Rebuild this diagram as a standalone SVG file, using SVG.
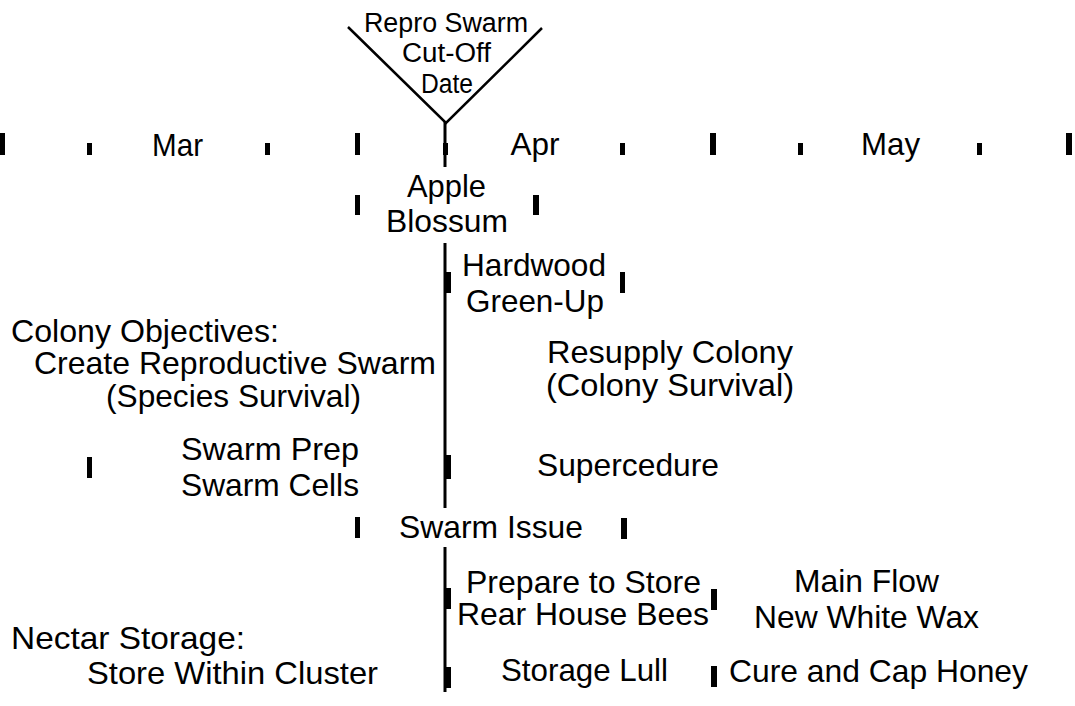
<svg xmlns="http://www.w3.org/2000/svg" width="1075" height="706" viewBox="0 0 1075 706">
  <style>
    text { font-family: "Liberation Sans", Arial, sans-serif; font-size: 30.5px; fill: #000; }
    .mid { text-anchor: middle; }
    .small { font-size: 27px; }
    .axis { stroke: #000; stroke-width: 3; fill: none; }
    .v { stroke: #000; stroke-width: 2.5; fill: none; }
    .tick { fill: #000; }
  </style>

  <!-- timeline axis: cut-off V and the vertical date line -->
  <g id="connectors">
    <polyline class="v" points="348,27 446,123 542,28"/>
    <line class="axis" x1="445" y1="122" x2="445" y2="167"/>
    <line class="axis" x1="445" y1="243" x2="445" y2="508"/>
    <line class="axis" x1="445" y1="547" x2="445" y2="692"/>
  </g>

  <!-- week / month tick marks -->
  <g id="ticks">
    <rect class="tick" x="0" y="133" width="5" height="22"/>
    <rect class="tick" x="87" y="143" width="5" height="12"/>
    <rect class="tick" x="265" y="143" width="5" height="12"/>
    <rect class="tick" x="355" y="133" width="5" height="22"/>
    <rect class="tick" x="443" y="143" width="5" height="12"/>
    <rect class="tick" x="620" y="143" width="5" height="12"/>
    <rect class="tick" x="710" y="133" width="6" height="22"/>
    <rect class="tick" x="798" y="143" width="5" height="12"/>
    <rect class="tick" x="977" y="143" width="5" height="12"/>
    <rect class="tick" x="1066" y="133" width="6" height="22"/>

    <rect class="tick" x="355" y="195" width="5" height="20"/>
    <rect class="tick" x="533" y="195" width="6" height="20"/>

    <rect class="tick" x="444" y="272" width="7" height="21"/>
    <rect class="tick" x="620" y="272" width="5" height="21"/>

    <rect class="tick" x="87" y="457" width="5" height="21"/>
    <rect class="tick" x="444" y="455" width="7" height="24"/>

    <rect class="tick" x="355" y="517" width="5" height="21"/>
    <rect class="tick" x="621" y="518" width="6" height="21"/>

    <rect class="tick" x="444" y="588" width="7" height="21"/>
    <rect class="tick" x="711" y="589" width="6" height="21"/>

    <rect class="tick" x="444" y="667" width="7" height="21"/>
    <rect class="tick" x="711" y="666" width="6" height="21"/>
  </g>

  <g id="cutoff">
    <text class="mid small" x="446" y="32" textLength="164" lengthAdjust="spacingAndGlyphs">Repro Swarm</text>
    <text class="mid small" x="446.5" y="62" textLength="89" lengthAdjust="spacingAndGlyphs">Cut-Off</text>
    <text class="mid small" x="447" y="93" textLength="52" lengthAdjust="spacingAndGlyphs">Date</text>
  </g>

  <g id="months">
    <text class="mid" x="177.5" y="156" textLength="51" lengthAdjust="spacingAndGlyphs">Mar</text>
    <text class="mid" x="535" y="155" textLength="49" lengthAdjust="spacingAndGlyphs">Apr</text>
    <text class="mid" x="890.5" y="155" textLength="59" lengthAdjust="spacingAndGlyphs">May</text>
  </g>

  <g id="apple-blossum">
    <text class="mid" x="446.5" y="197" textLength="79" lengthAdjust="spacingAndGlyphs">Apple</text>
    <text class="mid" x="447" y="232" textLength="122" lengthAdjust="spacingAndGlyphs">Blossum</text>
  </g>

  <g id="hardwood-green-up">
    <text class="mid" x="534" y="276" textLength="144" lengthAdjust="spacingAndGlyphs">Hardwood</text>
    <text class="mid" x="535" y="312" textLength="138" lengthAdjust="spacingAndGlyphs">Green-Up</text>
  </g>

  <g id="colony-objectives">
    <text x="11" y="342" textLength="268" lengthAdjust="spacingAndGlyphs">Colony Objectives:</text>
    <text class="mid" x="235" y="374" textLength="402" lengthAdjust="spacingAndGlyphs">Create Reproductive Swarm</text>
    <text class="mid" x="233.5" y="407" textLength="255" lengthAdjust="spacingAndGlyphs">(Species Survival)</text>
  </g>

  <g id="resupply-colony">
    <text class="mid" x="670" y="363" textLength="246" lengthAdjust="spacingAndGlyphs">Resupply Colony</text>
    <text class="mid" x="670" y="396" textLength="248" lengthAdjust="spacingAndGlyphs">(Colony Survival)</text>
  </g>

  <g id="swarm-prep">
    <text class="mid" x="270" y="460" textLength="178" lengthAdjust="spacingAndGlyphs">Swarm Prep</text>
    <text class="mid" x="270" y="496" textLength="178" lengthAdjust="spacingAndGlyphs">Swarm Cells</text>
  </g>

  <g id="supercedure">
    <text class="mid" x="628" y="476" textLength="182" lengthAdjust="spacingAndGlyphs">Supercedure</text>
  </g>

  <g id="swarm-issue">
    <text class="mid" x="491" y="538" textLength="184" lengthAdjust="spacingAndGlyphs">Swarm Issue</text>
  </g>

  <g id="prepare-to-store">
    <text class="mid" x="583.5" y="593" textLength="235" lengthAdjust="spacingAndGlyphs">Prepare to Store</text>
    <text class="mid" x="583" y="625" textLength="252" lengthAdjust="spacingAndGlyphs">Rear House Bees</text>
  </g>

  <g id="main-flow">
    <text class="mid" x="866.5" y="592" textLength="145" lengthAdjust="spacingAndGlyphs">Main Flow</text>
    <text class="mid" x="866.5" y="628" textLength="225" lengthAdjust="spacingAndGlyphs">New White Wax</text>
  </g>

  <g id="nectar-storage">
    <text x="11" y="649" textLength="234" lengthAdjust="spacingAndGlyphs">Nectar Storage:</text>
    <text class="mid" x="232.5" y="684" textLength="291" lengthAdjust="spacingAndGlyphs">Store Within Cluster</text>
  </g>

  <g id="storage-lull">
    <text class="mid" x="584.5" y="681" textLength="167" lengthAdjust="spacingAndGlyphs">Storage Lull</text>
  </g>

  <g id="cure-and-cap">
    <text class="mid" x="878.5" y="682" textLength="299" lengthAdjust="spacingAndGlyphs">Cure and Cap Honey</text>
  </g>
</svg>
